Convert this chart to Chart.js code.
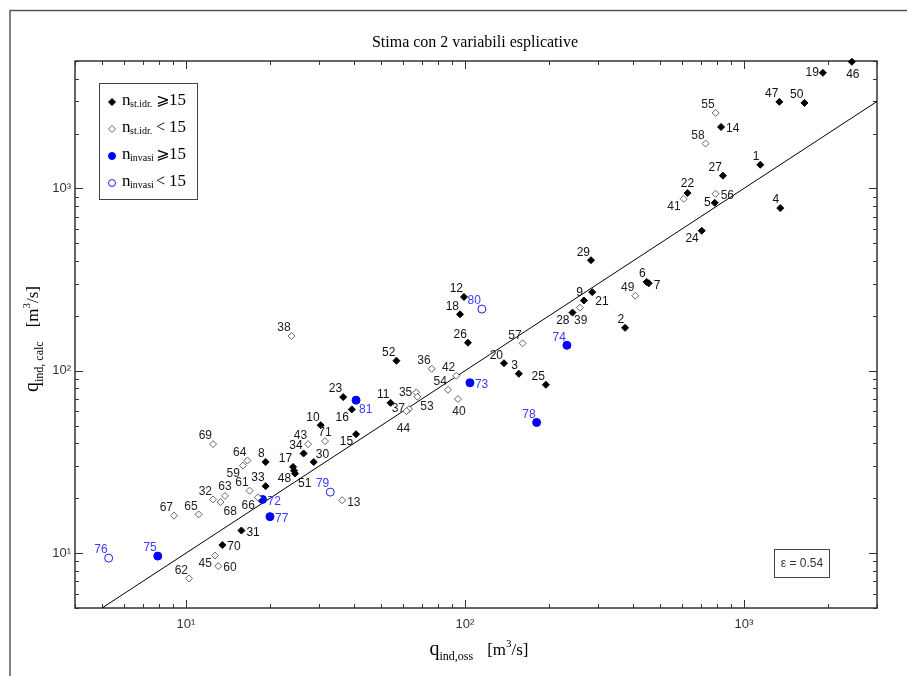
<!DOCTYPE html>
<html>
<head>
<meta charset="utf-8">
<script src="https://cdn.jsdelivr.net/npm/chart.js@4.4.1/dist/chart.umd.min.js"></script>
<style>
  html, body { margin: 0; padding: 0; background: #fff; }
  #wrap { width: 907px; height: 676px; }
</style>
</head>
<body>
<div id="wrap"><canvas id="chartStima" width="907" height="676"></canvas></div>
<script>
// Bacini con n_st.idr. >= 15 (rombi pieni)
var idStPieni = [1, 2, 3, 4, 5, 6, 7, 8, 9, 10, 11, 12, 14, 15, 16, 17, 18, 19, 20, 21, 22, 23, 24, 25, 26, 27, 28, 29, 30, 31, 33, 34, 46, 47, 48, 50, 51, 52, 70];
var qOssStPieni = [1145, 375, 156, 1350, 786, 448, 456, 19.3, 267, 30.4, 54.1, 99.2, 828, 40.7, 39.3, 24.2, 96, 1919, 138, 286, 628, 36.6, 706, 195, 102.5, 841, 243, 283, 28.7, 15.8, 19.3, 26.4, 2438, 1340, 24.4, 1648, 24.6, 56.8, 13.5];
var qCalcStPieni = [1349, 172, 96.3, 780, 834, 307, 302, 31.6, 243, 50.3, 66.7, 254, 2173, 44.9, 61.4, 29.7, 204, 4306, 110, 270, 944, 71.7, 586, 83.8, 142.6, 1175, 208.5, 404, 31.6, 13.3, 23.3, 35.2, 4950, 2985, 28.3, 2944, 27.3, 113.5, 11.07];

// Bacini con n_st.idr. < 15 (rombi vuoti)
var idStVuoti = [13, 32, 35, 36, 37, 38, 39, 40, 41, 42, 43, 44, 45, 49, 53, 54, 55, 56, 57, 58, 59, 60, 61, 62, 63, 64, 65, 66, 67, 68, 69, 71];
var qOssStVuoti = [36.3, 12.5, 66.9, 76, 63, 23.9, 258, 94.4, 608, 93.1, 27.4, 61.7, 12.7, 408, 67.5, 86.9, 792, 792, 161, 729, 16, 13.05, 16.9, 10.25, 13.8, 16.6, 11.1, 18.1, 9.06, 13.3, 12.5, 31.5];
var qCalcStVuoti = [19.5, 19.7, 76.1, 102.5, 61.6, 155, 222, 70, 878, 93.9, 39.6, 60.1, 9.7, 258, 72, 78.7, 2594, 935, 141.5, 1762, 30.2, 8.48, 22, 7.26, 20.6, 32.2, 16.3, 20.2, 16.05, 19.05, 39.6, 41.1];

// Invasi con n >= 15 (cerchi pieni)
var idInvPieni = [72, 73, 74, 75, 77, 78, 81];
var qOssInvPieni = [18.8, 104.2, 232, 7.92, 20, 180.7, 40.7];
var qCalcInvPieni = [19.7, 85.9, 138, 9.63, 15.85, 52.1, 69];

// Invasi con n < 15 (cerchi vuoti)
var idInvVuoti = [76, 79, 80];
var qOssInvVuoti = [5.28, 32.9, 115];
var qCalcInvVuoti = [9.39, 21.6, 218];

// bisettrice q_calc = q_oss
var bisettrice = [5, 3000];

// assi
var xRange = [4, 3000];
var yRange = [5, 5000];
var majorTicks = [10, 100, 1000];
var majorLabels = ['10\u00b9', '10\u00b2', '10\u00b3'];
var epsilonText = '\u03b5 = 0.54';

// posizione delle etichette rispetto al punto (default: in alto a sinistra)
var labelSide = {
  46: 'b', 19: 'l', 14: 'r', 22: 'u', 41: 'bl', 56: 'r', 5: 'l', 24: 'bl', 7: 'r', 21: 'br',
  39: 'b', 28: 'bl', 73: 'r', 40: 'b', 35: 'l', 53: 'br', 37: 'l', 44: 'bb', 81: 'br', 16: 'bl',
  15: 'bl', 71: 'u', 30: 'ur', 59: 'bl', 48: 'bl', 51: 'br', 63: 'u', 68: 'br', 66: 'bl', 72: 'r',
  77: 'r', 31: 'r', 70: 'r', 45: 'bl', 60: 'r', 13: 'r'
};

var SERIF = '"Liberation Serif", "Times New Roman", serif';
var SANS = '"Liberation Sans", Arial, sans-serif';

function toPoints(xs, ys) {
  return xs.map(function (x, i) { return { x: x, y: ys[i] }; });
}

// all tick positions of a log axis (1..9 for every decade inside the range)
function logTicks(range) {
  var out = [];
  for (var e = -1; e <= 4; e++) {
    for (var m = 1; m <= 9; m++) {
      var v = Math.round(m * Math.pow(10, e) * 1000) / 1000;
      if (v >= range[0] - 1e-9 && v <= range[1] + 1e-9) out.push(v);
    }
  }
  return out;
}

function tickLabel(value) {
  var i = majorTicks.indexOf(value);
  return i < 0 ? '' : majorLabels[i];
}

// draws pieces of text (normal / subscript / superscript) on one baseline
function drawParts(ctx, parts, x, y, align) {
  var total = 0;
  parts.forEach(function (p) {
    if (typeof p === 'number') { total += p; return; }
    ctx.font = p[1];
    total += ctx.measureText(p[0]).width;
  });
  var cx = align === 'center' ? x - total / 2 : x;
  ctx.textAlign = 'left';
  ctx.textBaseline = 'alphabetic';
  parts.forEach(function (p) {
    if (typeof p === 'number') { cx += p; return; }
    ctx.font = p[1];
    ctx.fillText(p[0], cx, y + (p[2] || 0));
    cx += ctx.measureText(p[0]).width;
  });
}

function drawLabel(ctx, text, x, y, side) {
  ctx.textBaseline = 'middle';
  switch (side) {
    case 'l': ctx.textAlign = 'right'; ctx.fillText(text, x - 4, y); break;
    case 'r': ctx.textAlign = 'left'; ctx.fillText(text, x + 5, y + 2); break;
    case 'bl': ctx.textAlign = 'right'; ctx.fillText(text, x - 3, y + 8); break;
    case 'br': ctx.textAlign = 'left'; ctx.fillText(text, x + 3, y + 10); break;
    case 'b': ctx.textAlign = 'center'; ctx.fillText(text, x + 1, y + 13); break;
    case 'bb': ctx.textAlign = 'center'; ctx.fillText(text, x - 3, y + 18); break;
    case 'u': ctx.textAlign = 'center'; ctx.fillText(text, x, y - 9); break;
    case 'ur': ctx.textAlign = 'left'; ctx.fillText(text, x + 2, y - 7); break;
    default: ctx.textAlign = 'right'; ctx.fillText(text, x - 1, y - 8);
  }
}

var decorazioni = {
  id: 'decorazioni',
  beforeDraw: function (chart) {
    var ctx = chart.ctx;
    ctx.save();
    ctx.fillStyle = '#fff';
    ctx.fillRect(0, 0, chart.width, chart.height);
    // cornice esterna della figura
    ctx.strokeStyle = '#555';
    ctx.lineWidth = 1.5;
    ctx.beginPath();
    ctx.moveTo(10, chart.height);
    ctx.lineTo(10, 10.5);
    ctx.lineTo(chart.width, 10.5);
    ctx.stroke();
    ctx.restore();
  },
  beforeDatasetsDraw: function (chart) {
    var ctx = chart.ctx;
    var a = chart.chartArea;
    var xs = chart.scales.x;
    var ys = chart.scales.y;
    ctx.save();
    ctx.strokeStyle = '#333';
    ctx.lineWidth = 1;
    ctx.beginPath();
    logTicks(xRange).forEach(function (v) {
      var px = Math.round(xs.getPixelForValue(v)) + 0.5;
      var len = majorTicks.indexOf(v) >= 0 ? 8 : 4;
      ctx.moveTo(px, a.bottom); ctx.lineTo(px, a.bottom - len);
      ctx.moveTo(px, a.top); ctx.lineTo(px, a.top + len);
    });
    logTicks(yRange).forEach(function (v) {
      var py = Math.round(ys.getPixelForValue(v)) + 0.5;
      var len = majorTicks.indexOf(v) >= 0 ? 8 : 4;
      ctx.moveTo(a.left, py); ctx.lineTo(a.left + len, py);
      ctx.moveTo(a.right, py); ctx.lineTo(a.right - len, py);
    });
    ctx.stroke();
    ctx.lineWidth = 1.5;
    ctx.strokeRect(a.left, a.top, a.right - a.left, a.bottom - a.top);
    ctx.restore();
  },
  afterDatasetsDraw: function (chart) {
    var ctx = chart.ctx;
    ctx.save();

    // etichette dei punti
    ctx.font = '12px ' + SANS;
    chart.data.datasets.forEach(function (ds, i) {
      if (!ds.ids) return;
      var meta = chart.getDatasetMeta(i);
      ctx.fillStyle = ds.labelColor;
      meta.data.forEach(function (pt, j) {
        var id = ds.ids[j];
        drawLabel(ctx, String(id), pt.x, pt.y, labelSide[id]);
      });
    });

    // titolo
    ctx.fillStyle = '#000';
    ctx.font = '16px ' + SERIF;
    ctx.textAlign = 'center';
    ctx.textBaseline = 'middle';
    ctx.fillText('Stima con 2 variabili esplicative', 475, 43);

    // titolo asse x
    drawParts(ctx, [
      ['q', '20px ' + SERIF], ['ind,oss', '12px ' + SERIF, 5], 14,
      ['[m', '17px ' + SERIF], ['3', '11px ' + SERIF, -8], ['/s]', '17px ' + SERIF]
    ], 479, 655, 'center');

    // titolo asse y
    ctx.save();
    ctx.translate(38, 339);
    ctx.rotate(-Math.PI / 2);
    drawParts(ctx, [
      ['q', '20px ' + SERIF], ['ind, calc', '12px ' + SERIF, 5], 14,
      ['[m', '17px ' + SERIF], ['3', '11px ' + SERIF, -8], ['/s]', '17px ' + SERIF]
    ], 0, 0, 'center');
    ctx.restore();

    // legenda
    ctx.strokeStyle = '#444';
    ctx.lineWidth = 1;
    ctx.strokeRect(99.5, 83.5, 98, 116);
    var rows = [
      { ds: 0, sub: 'st.idr.', rel: '\u2a7e' },
      { ds: 1, sub: 'st.idr.', rel: '<' },
      { ds: 2, sub: 'invasi', rel: '\u2a7e' },
      { ds: 3, sub: 'invasi', rel: '<' }
    ];
    rows.forEach(function (r, k) {
      var y = 102 + k * 27;
      var ds = chart.data.datasets[r.ds];
      ctx.fillStyle = ds.backgroundColor;
      ctx.strokeStyle = ds.borderColor;
      ctx.beginPath();
      if (ds.pointStyle === 'circle') {
        ctx.arc(112, y, 3.5, 0, Math.PI * 2);
      } else {
        ctx.moveTo(112, y - 3.5); ctx.lineTo(115.5, y); ctx.lineTo(112, y + 3.5); ctx.lineTo(108.5, y);
        ctx.closePath();
      }
      ctx.fill();
      ctx.stroke();
      ctx.fillStyle = '#000';
      drawParts(ctx, [['n', '17px ' + SERIF]], 122, y + 3, 'left');
      ctx.font = '10px ' + SERIF;
      ctx.textAlign = 'left';
      ctx.textBaseline = 'alphabetic';
      ctx.fillText(r.sub, 130, y + 5);
      ctx.font = '16px ' + SERIF + ', "DejaVu Sans"';
      ctx.fillText(r.rel, 156, y + 3);
      ctx.font = '17px ' + SERIF;
      ctx.fillText('15', 169, y + 3);
    });

    // riquadro epsilon
    ctx.strokeStyle = '#444';
    ctx.strokeRect(774.5, 549.5, 55, 28);
    ctx.fillStyle = '#333';
    ctx.font = '12px ' + SANS;
    ctx.textAlign = 'center';
    ctx.textBaseline = 'middle';
    ctx.fillText(epsilonText, 802, 564);

    ctx.restore();
  }
};

var ctx = document.getElementById('chartStima');
var chart = new Chart(ctx, {
  type: 'scatter',
  data: {
    datasets: [
      {
        label: 'n st.idr. >= 15',
        ids: idStPieni,
        labelColor: '#111',
        data: toPoints(qOssStPieni, qCalcStPieni),
        pointStyle: 'rectRot',
        pointRadius: 3.5,
        backgroundColor: '#000',
        borderColor: '#000',
        borderWidth: 1,
        clip: false
      },
      {
        label: 'n st.idr. < 15',
        ids: idStVuoti,
        labelColor: '#222',
        data: toPoints(qOssStVuoti, qCalcStVuoti),
        pointStyle: 'rectRot',
        pointRadius: 3.5,
        backgroundColor: '#fff',
        borderColor: '#666',
        borderWidth: 1,
        clip: false
      },
      {
        label: 'n invasi >= 15',
        ids: idInvPieni,
        labelColor: '#3a3aff',
        data: toPoints(qOssInvPieni, qCalcInvPieni),
        pointStyle: 'circle',
        pointRadius: 4,
        backgroundColor: '#0000ff',
        borderColor: '#0000ff',
        borderWidth: 1,
        clip: false
      },
      {
        label: 'n invasi < 15',
        ids: idInvVuoti,
        labelColor: '#3a3aff',
        data: toPoints(qOssInvVuoti, qCalcInvVuoti),
        pointStyle: 'circle',
        pointRadius: 4,
        backgroundColor: '#fff',
        borderColor: '#2020ff',
        borderWidth: 1,
        clip: false
      },
      {
        label: 'bisettrice',
        data: toPoints(bisettrice, bisettrice),
        showLine: true,
        pointRadius: 0,
        borderColor: '#000',
        borderWidth: 1,
        fill: false
      }
    ]
  },
  options: {
    responsive: false,
    animation: false,
    events: [],
    layout: { padding: { left: 0, right: 30, top: 61, bottom: 0 } },
    plugins: {
      legend: { display: false },
      tooltip: { enabled: false },
      title: { display: false }
    },
    scales: {
      x: {
        type: 'logarithmic',
        min: xRange[0],
        max: xRange[1],
        grid: { display: false, drawTicks: false },
        border: { display: false },
        afterBuildTicks: function (scale) {
          scale.ticks = majorTicks.map(function (v) { return { value: v }; });
        },
        afterFit: function (scale) { scale.height = 68; },
        ticks: {
          autoSkip: false,
          maxRotation: 0,
          padding: 9,
          color: '#333',
          font: { family: SANS, size: 13 },
          callback: tickLabel
        }
      },
      y: {
        type: 'logarithmic',
        min: yRange[0],
        max: yRange[1],
        grid: { display: false, drawTicks: false },
        border: { display: false },
        afterBuildTicks: function (scale) {
          scale.ticks = majorTicks.map(function (v) { return { value: v }; });
        },
        afterFit: function (scale) { scale.width = 75; },
        ticks: {
          autoSkip: false,
          padding: 4,
          color: '#333',
          font: { family: SANS, size: 13 },
          callback: tickLabel
        }
      }
    }
  },
  plugins: [decorazioni]
});
</script>
</body>
</html>
